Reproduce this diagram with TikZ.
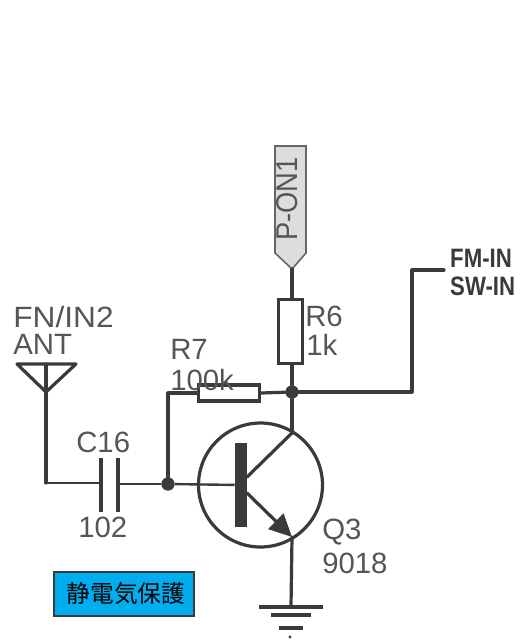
\documentclass[tikz,border=0pt]{standalone}
\usepackage{xcolor}
\usepackage{fontspec}
\setmainfont{Liberation Sans}
\newfontfamily\cjkfont{Noto Sans CJK JP}
\usetikzlibrary{arrows.meta, positioning}
\definecolor{wirecol}{HTML}{3A3A3A}
\definecolor{labelcol}{HTML}{555555}
\definecolor{flagcol}{HTML}{DDDDDD}
\definecolor{boxcol}{HTML}{00AEEF}
\tikzset{
	wire/.style={draw=wirecol, line width=2.4pt, line cap=round, line join=round},
	thinwire/.style={draw=wirecol, line width=1.8pt},
	res/.style={draw=wirecol, line width=2.4pt, fill=white, inner sep=0pt},
	plate/.style={fill=wirecol, inner sep=0pt, minimum width=3pt, minimum height=40pt},
	dotnode/.style={circle, fill=wirecol, inner sep=0pt, minimum size=10pt},
	lab/.style={anchor=west, inner sep=0pt, text=labelcol, font=\fontsize{22}{24}\selectfont},
	netlab/.style={anchor=west, inner sep=0pt, text=wirecol, xscale=0.9, yscale=1.08, font=\fontsize{18.5}{20}\selectfont\bfseries}
}

\begin{document}
\begin{tikzpicture}[x=0.75pt, y=-0.75pt]
		\useasboundingbox (0,0) rectangle (525,642);
		
		%// power flag
		\coordinate (flagtip) at (292,269);
		\draw [draw=gray!80!black, fill=flagcol, line width=1.2pt] (275,146) -- (306,146) -- (306,253) -- (flagtip) -- (275,253) -- cycle;
		\node (pon) [rotate=90, inner sep=0pt, text=labelcol, yscale=1.1, font=\fontsize{20.5}{22}\selectfont] at (287,199) {P-ON1};
		
		%// resistors and junctions
		\node (rsix) [res, minimum width=17.5pt, minimum height=48pt] at (290.5,331.5) {};
		\node (rseven) [res, minimum width=46pt, minimum height=12pt] at (229,393) {};
		\node (topjoin) [dotnode] at (292,392) {};
		\node (basejoin) [dotnode] at (168,484) {};
		
		\draw [wire] (flagtip) -- (292,299);
		\draw [wire] (292,364) -- (topjoin);
		\draw [wire] (topjoin) -- (rseven.east);
		\coordinate (netcorner) at (412,392);
		\coordinate (netend) at (444,270);
		\draw [wire] (topjoin) -- (netcorner) -- (netcorner |- netend) -- (netend);
		\draw [wire] (rseven.west) -- (basejoin |- rseven) -- (basejoin);
		
		%// transistor
		\node (qthree) [circle, draw=wirecol, line width=2.4pt, inner sep=0pt, minimum size=93pt] at (260.5,485) {};
		\node (basebar) [fill=wirecol, inner sep=0pt, minimum width=9pt, minimum height=63pt] at (241,485) {};
		\coordinate (coll) at (292,433);
		\coordinate (emit) at (292,537);
		\draw [wire] (topjoin) -- (coll);
		\draw [wire] (247,477) -- (coll);
		\draw [wire, -{Triangle[length=17pt, width=16pt]}] (247,493) -- (emit);
		
		%// antenna and capacitor
		\coordinate (anttip) at (46,392);
		\coordinate (antfoot) at (46,483);
		\draw [wire] (17,364) -- (76,364) -- (anttip) -- cycle;
		\draw [wire] (46,364) -- (anttip) -- (antfoot);
		\node (capa) [plate] at (101,485) {};
		\node (capb) [plate] at (118,485) {};
		\draw [thinwire] (antfoot) -- (capa |- antfoot);
		\draw [thinwire] (capb |- basejoin) -- (basejoin);
		\draw [thinwire] (basejoin) -- (basebar);
		
		%// ground
		\coordinate (gnd) at (291,607);
		\draw [wire] (emit) -- (gnd);
		\foreach \y/\w in {607/32, 615/20, 628/12}
		\draw [wirecol, line width=2.4pt] (291-\w,\y) -- (291+\w,\y);
		\fill [wirecol] (290,637) circle (1.2pt);
		
		%// labels
		\node (rsixa) [lab] at (305,316) {R6};
		\node (rsixb) [lab] at (306,345) {1k};
		\node (rsevena) [lab] at (170,349) {R7};
		\node (rsevenb) [lab] at (170,380) {100k};
		\node (anta) [lab, xscale=1.08] at (13,317) {FN/IN2};
		\node (antb) [lab] at (13,344) {ANT};
		\node (capc) [lab] at (76,442) {C16};
		\node (capd) [lab] at (78,527) {102};
		\node (qa) [lab] at (322,532) {Q3};
		\node (qb) [lab] at (322,563) {9018};
		\node (fmin) [netlab] at (450,258) {FM-IN};
		\node (swin) [netlab] at (450,286) {SW-IN};
		
		\node (esd) [draw=wirecol, fill=boxcol, line width=0.8pt, inner sep=0pt, minimum width=105pt, minimum height=33pt, font=\cjkfont\fontsize{17.8}{20}\selectfont] at (124,594) {\hspace*{3pt}静電気保護};
		\end{tikzpicture}
\end{document}
